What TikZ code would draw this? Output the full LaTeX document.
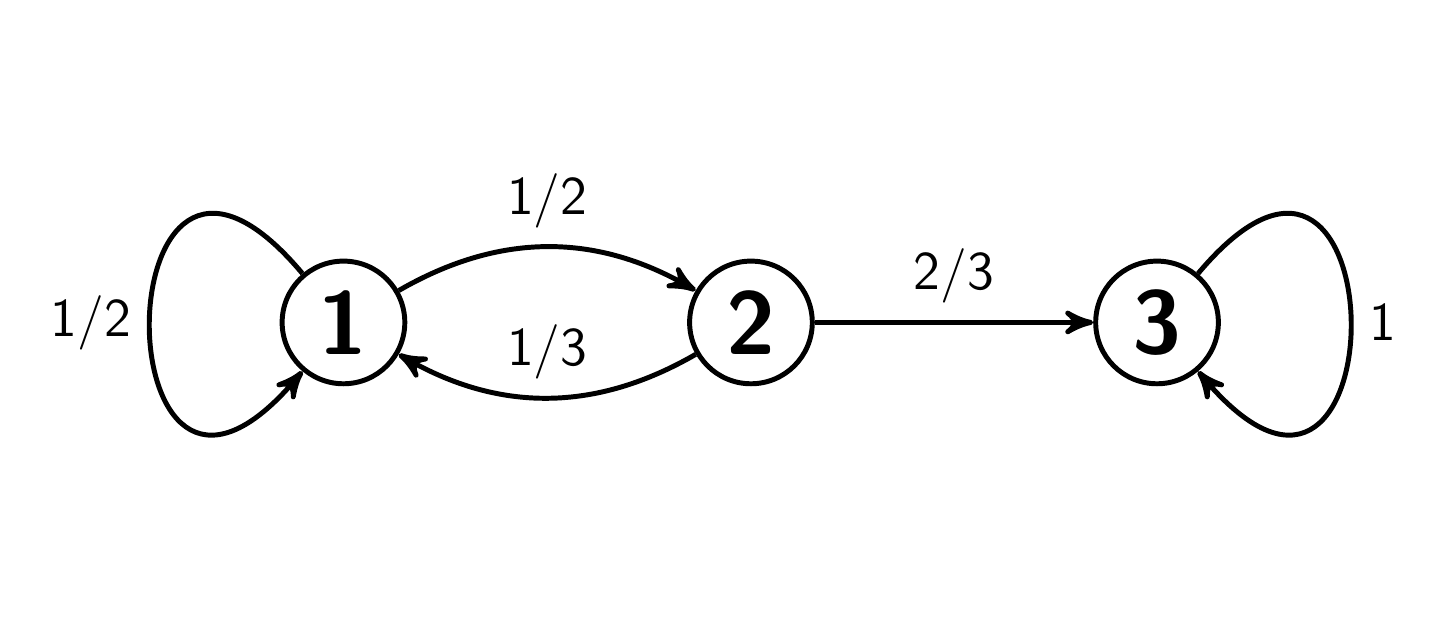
\documentclass[tikz,border=0pt]{standalone}
\usepackage{tikz}
\usetikzlibrary{arrows}
\renewcommand{\familydefault}{\sfdefault}
\tikzstyle{vertex}=[circle,draw,line width=1pt,minimum size=0.87cm,inner sep=0pt,font=\fontsize{18}{20}\selectfont\bfseries]
\tikzstyle{edge} = [draw,line width=1pt,-stealth']
\tikzstyle{weight} = [font=\fontsize{11}{13}\selectfont]

\begin{document}
\begin{tikzpicture}

    \useasboundingbox (0,0) rectangle (10.206,4.546);

    \foreach \pos/ \name / \label in {{(2.436,2.259)/v1/1}, {(5.326,2.259)/v2/2}, {(8.206,2.259)/v3/3}}
        \node[vertex] (\name) at \pos {\label};

    % edges between the states
    \path[edge] (v1) to[bend left=30] node[weight,above] {1/2} (v2);
    \path[edge] (v2) to[bend left=30] node[weight,above] {1/3} (v1);
    \path[edge] (v2) -- node[weight,above] {2/3} (v3);

    % self loops
    \path[edge] (v1) to[out=130,in=230,looseness=8.3] node[weight,left] {1/2} (v1);
    \path[edge] (v3) to[out=50,in=-50,looseness=8.3] node[weight,right] {1} (v3);

\end{tikzpicture}
\end{document}
